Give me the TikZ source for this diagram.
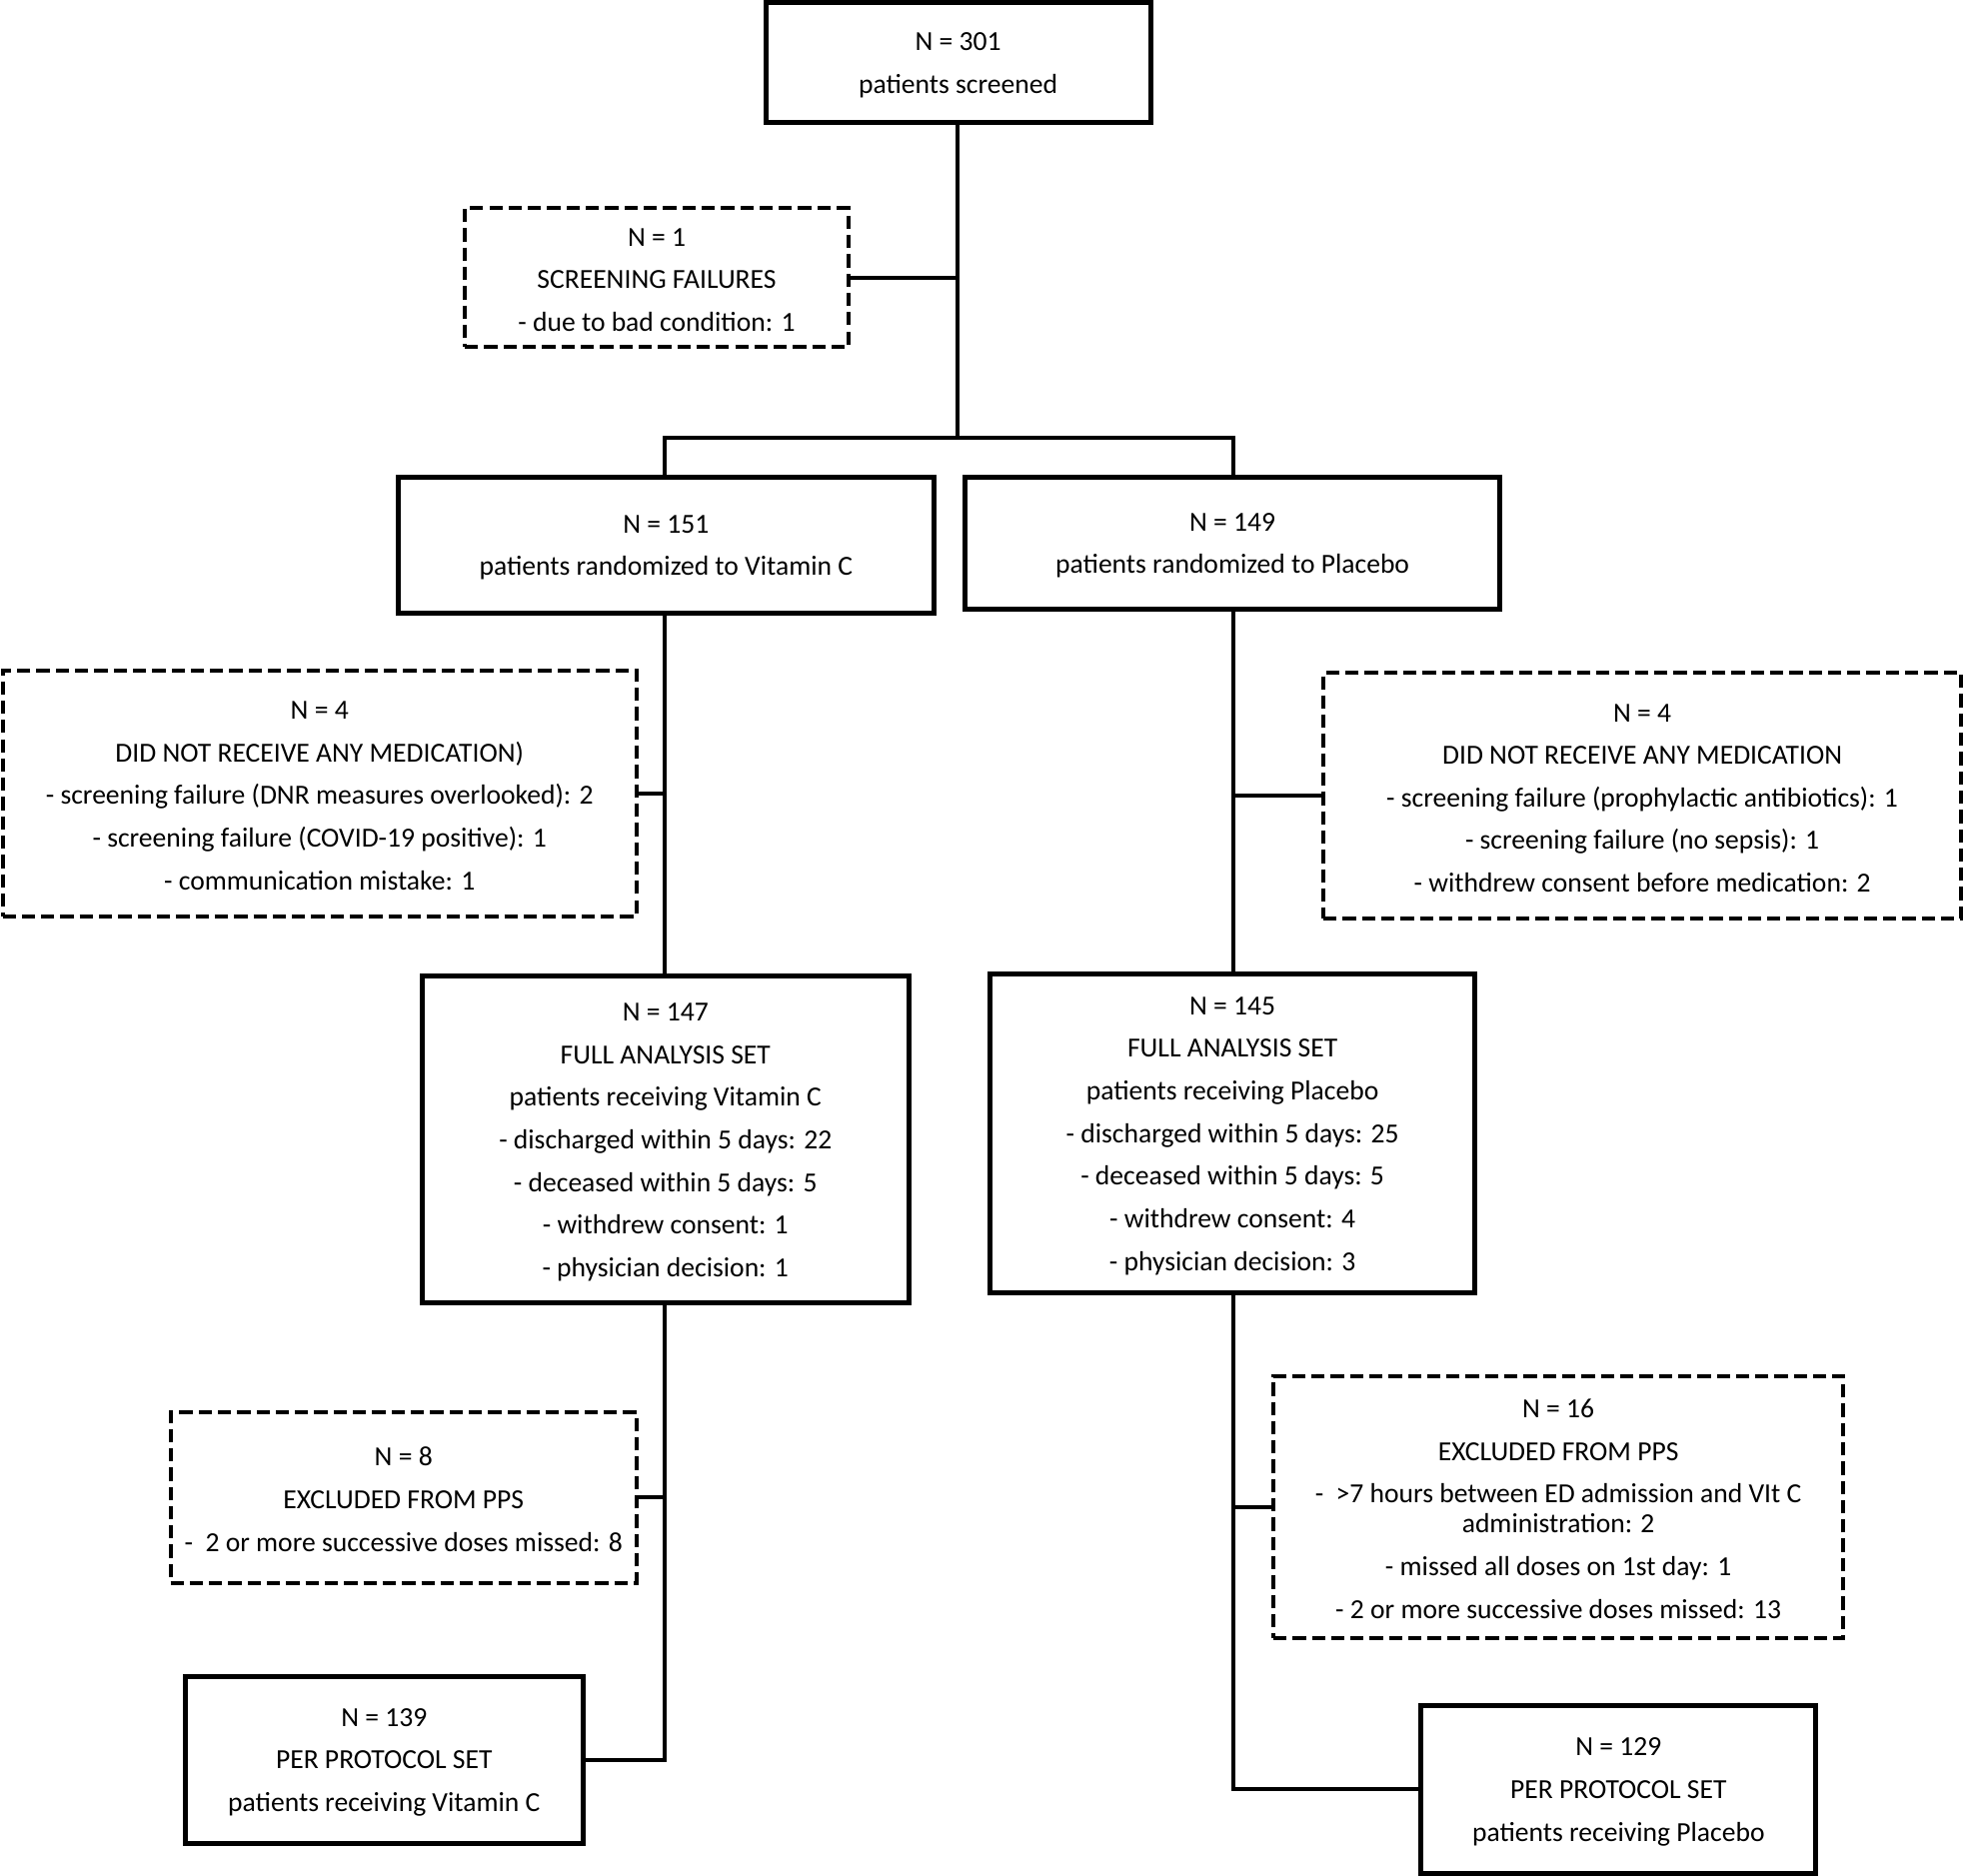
\documentclass[tikz,border=0pt]{standalone}
\usepackage{fontspec}
\setmainfont{Carlito}
\begin{document}
\begin{tikzpicture}[x=0.5pt,y=-0.5pt,
  box/.style={draw, line width=2pt, rectangle, inner sep=0pt, align=center,
    font=\fontsize{11}{12}\selectfont},
  dbox/.style={box, line width=1.6pt, dash pattern=on 5.3pt off 2.4pt},
  conn/.style={line width=1.6pt}]
\useasboundingbox (0,0) rectangle (1568,1497);
\def\gap{\\[5pt]}
\def\st{\rule{0pt}{9pt}}
\node[box, minimum width=153.5pt, minimum height=48pt] (top) at (764.5,50)
  {\st N = 301\gap patients screened};
\node[dbox, minimum width=153pt, minimum height=55.5pt] (sf) at (524,221.5)
  {\st N = 1\gap SCREENING FAILURES\gap - due to bad condition: 1};
\node[box, minimum width=213.5pt, minimum height=54pt] (vitc) at (531.5,435)
  {\st N = 151\gap patients randomized to Vitamin C};
\node[box, minimum width=213.5pt, minimum height=52.5pt] (plac) at (983.5,433.5)
  {\st N = 149\gap patients randomized to Placebo};
\node[dbox, minimum width=253pt, minimum height=98pt] (dnrL) at (255,633)
  {\st N = 4\gap DID NOT RECEIVE ANY MEDICATION)\gap - screening failure (DNR measures overlooked): 2\gap - screening failure (COVID-19 positive): 1\gap - communication mistake: 1};
\node[dbox, minimum width=254.5pt, minimum height=98pt] (dnrR) at (1310.5,635)
  {\st N = 4\gap DID NOT RECEIVE ANY MEDICATION\gap - screening failure (prophylactic antibiotics): 1\gap - screening failure (no sepsis): 1\gap - withdrew consent before medication: 2};
\node[box, minimum width=194pt, minimum height=130.5pt] (fasL) at (531,909.5)
  {\st N = 147\gap FULL ANALYSIS SET\gap patients receiving Vitamin C\gap - discharged within 5 days: 22\gap - deceased within 5 days: 5\gap - withdrew consent: 1\gap - physician decision: 1};
\node[box, minimum width=193.5pt, minimum height=127.5pt] (fasR) at (983.5,904.5)
  {\st N = 145\gap FULL ANALYSIS SET\gap patients receiving Placebo\gap - discharged within 5 days: 25\gap - deceased within 5 days: 5\gap - withdrew consent: 4\gap - physician decision: 3};
\node[dbox, minimum width=186pt, minimum height=68pt] (exL) at (322,1195)
  {\st N = 8\gap EXCLUDED FROM PPS\gap -~~2 or more successive doses missed: 8};
\node[box, minimum width=158.5pt, minimum height=66.5pt] (ppsL) at (306.5,1404.5)
  {\st N = 139\gap PER PROTOCOL SET\gap patients receiving Vitamin C};
\node[dbox, minimum width=227.5pt, minimum height=104.5pt] (exR) at (1243.5,1202.5)
  {\st N = 16\gap EXCLUDED FROM PPS\gap -~~>7 hours between ED admission and VIt C\\ administration: 2\gap - missed all doses on 1st day: 1\gap - 2 or more successive doses missed: 13};
\node[box, minimum width=157.5pt, minimum height=67pt] (ppsR) at (1291.5,1428)
  {\st N = 129\gap PER PROTOCOL SET\gap patients receiving Placebo};
% junctions
\coordinate (jT) at (764,349);
\coordinate (jL) at (530,349);
\coordinate (jR) at (984,349);
% connectors
\draw[conn] (top.south -| jT) -- (jT);
\draw[conn] (sf.east) -- (sf.east -| jT);
\draw[conn] (vitc.north -| jL) -- (jL) -- (jR) -- (plac.north -| jR);
\draw[conn] (vitc.south -| jL) -- (fasL.north -| jL);
\draw[conn] (dnrL.east) -- (dnrL.east -| jL);
\draw[conn] (plac.south -| jR) -- (fasR.north -| jR);
\draw[conn] (dnrR.west) -- (dnrR.west -| jR);
\draw[conn] (fasL.south -| jL) -- (ppsL.east -| jL) -- (ppsL.east);
\draw[conn] (exL.east) -- (exL.east -| jL);
\draw[conn] (fasR.south -| jR) -- (ppsR.west -| jR) -- (ppsR.west);
\draw[conn] (exR.west) -- (exR.west -| jR);
\end{tikzpicture}
\end{document}
